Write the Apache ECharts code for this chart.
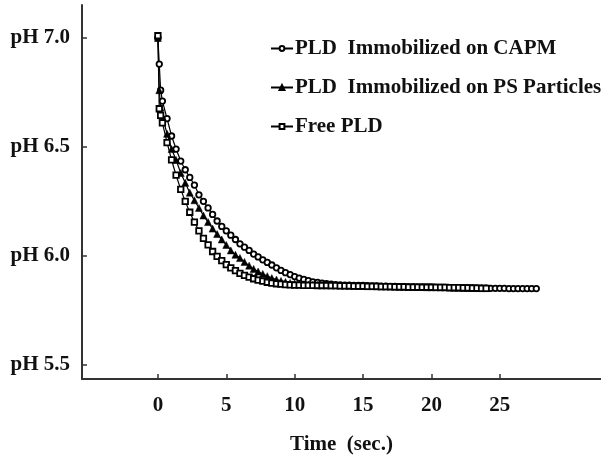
<!DOCTYPE html>
<html>
<head>
<meta charset="utf-8">
<script src="https://cdn.jsdelivr.net/npm/echarts@6/dist/echarts.min.js"></script>
<style>
html,body{margin:0;padding:0;background:#fff;}
#chart{width:601px;height:460px;}
</style>
</head>
<body>
<div id="chart"></div>
<script>
// Time (sec.) of each sample
var time = [0, 0.1, 0.2, 0.33, 0.67, 1, 1.33, 1.67, 2, 2.33, 2.67, 3, 3.33, 3.67, 4, 4.33, 4.67, 5, 5.33, 5.67,
  6, 6.33, 6.67, 7, 7.33, 7.67, 8, 8.33, 8.67, 9, 9.33, 9.67, 10, 10.33, 10.67, 11, 11.33, 11.67, 12, 12.33,
  12.67, 13, 13.33, 13.67, 14, 14.33, 14.67, 15, 15.33, 15.67, 16, 16.33, 16.67, 17, 17.33, 17.67, 18, 18.33,
  18.67, 19, 19.33, 19.67, 20, 20.33, 20.67, 21, 21.33, 21.67, 22, 22.33, 22.67, 23, 23.33, 23.67, 24,
  24.33, 24.67, 25, 25.33, 25.67, 26, 26.33, 26.67, 27, 27.33, 27.67];

// pH values
var capm = [7.0, 6.88, 6.76, 6.71, 6.63, 6.55, 6.49, 6.435, 6.395, 6.36, 6.325, 6.28, 6.25, 6.22, 6.19, 6.16,
  6.135, 6.115, 6.095, 6.075, 6.055, 6.04, 6.025, 6.008, 5.995, 5.982, 5.97, 5.958, 5.945, 5.933, 5.923,
  5.914, 5.905, 5.898, 5.892, 5.886, 5.881, 5.878, 5.875, 5.872, 5.87, 5.868, 5.867, 5.866, 5.866, 5.865,
  5.864, 5.864, 5.863, 5.862, 5.862, 5.861, 5.861, 5.86, 5.86, 5.859, 5.859, 5.858, 5.858, 5.857, 5.857,
  5.856, 5.856, 5.855, 5.855, 5.855, 5.854, 5.854, 5.854, 5.853, 5.853, 5.853, 5.852, 5.852, 5.852, 5.851,
  5.851, 5.851, 5.851, 5.85, 5.85, 5.85, 5.85, 5.85, 5.85, 5.85];

var psParticles = [7.0, 6.76, 6.68, 6.64, 6.56, 6.49, 6.44, 6.38, 6.335, 6.29, 6.255, 6.22, 6.185, 6.155, 6.125,
  6.1, 6.075, 6.05, 6.025, 6.005, 5.99, 5.972, 5.955, 5.94, 5.928, 5.917, 5.907, 5.898, 5.891, 5.885, 5.88,
  5.876, 5.873, 5.871, 5.87, 5.869, 5.868, 5.867, 5.866, 5.866, 5.865, 5.865, 5.864, 5.864, 5.863, 5.863,
  5.862, 5.862, 5.861, 5.861, 5.86, 5.86, 5.86, 5.859, 5.859, 5.858, 5.858, 5.858, 5.857, 5.857, 5.857,
  5.856, 5.856, 5.856, 5.855, 5.855, 5.855, 5.854, 5.854, 5.854, 5.853, 5.853, 5.853, 5.852, 5.852];

var freePld = [7.01, 6.675, 6.645, 6.61, 6.52, 6.44, 6.37, 6.305, 6.25, 6.2, 6.155, 6.115, 6.08, 6.05, 6.02,
  5.998, 5.978, 5.96, 5.945, 5.932, 5.92, 5.91, 5.902, 5.895, 5.889, 5.884, 5.879, 5.875, 5.872, 5.87, 5.868,
  5.867, 5.866, 5.866, 5.865, 5.865, 5.865, 5.864, 5.864, 5.864, 5.863, 5.863, 5.862, 5.862, 5.862, 5.861,
  5.861, 5.861, 5.86, 5.86, 5.86, 5.859, 5.859, 5.859, 5.858, 5.858, 5.858, 5.857, 5.857, 5.857, 5.856,
  5.856, 5.856, 5.855, 5.855, 5.855, 5.854, 5.854, 5.854, 5.853, 5.853, 5.852, 5.852, 5.851, 5.851];

var seriesNames = ['PLD  Immobilized on CAPM', 'PLD  Immobilized on PS Particles', 'Free PLD'];
var xTicks = [0, 5, 10, 15, 20, 25];
var yTicks = [5.5, 6.0, 6.5, 7.0];

function pairs(vals) {
  var out = [];
  for (var i = 0; i < vals.length; i++) out.push([time[i], vals[i]]);
  return out;
}

var FONT = 'Liberation Serif';
var chart = echarts.init(document.getElementById('chart'), null, {renderer: 'canvas'});
var option = {
  backgroundColor: '#ffffff',
  animation: false,
  grid: {left: 82, right: 0, top: 5, bottom: 77, containLabel: false},
  legend: {
    orient: 'vertical',
    left: 265,
    top: 33,
    itemWidth: 22,
    itemHeight: 6,
    itemGap: 18,
    textStyle: {fontFamily: FONT, fontWeight: 'bold', fontSize: 21, color: '#111', padding: [0, 0, 0, -3]},
    data: seriesNames
  },
  xAxis: {
    type: 'value',
    min: -5.55,
    max: 32.4,
    name: 'Time  (sec.)',
    nameLocation: 'middle',
    nameGap: 55,
    nameTextStyle: {fontFamily: FONT, fontWeight: 'bold', fontSize: 21, color: '#111'},
    axisLine: {onZero: false, lineStyle: {color: '#333', width: 2}},
    axisTick: {show: true, inside: true, length: 5, customValues: xTicks, lineStyle: {color: '#333', width: 1.5}},
    axisLabel: {customValues: xTicks, margin: 16, fontFamily: FONT, fontWeight: 'bold', fontSize: 21, color: '#111'},
    splitLine: {show: false}
  },
  yAxis: {
    type: 'value',
    min: 5.435,
    max: 7.151,
    axisLine: {show: true, onZero: false, lineStyle: {color: '#333', width: 2}},
    axisTick: {show: true, inside: true, length: 5, customValues: yTicks, lineStyle: {color: '#333', width: 1.5}},
    axisLabel: {
      customValues: yTicks, margin: 12, fontFamily: FONT, fontWeight: 'bold', fontSize: 21, color: '#111',
      formatter: function (v) { return 'pH ' + v.toFixed(1); }
    },
    splitLine: {show: false}
  },
  series: [
    {
      name: seriesNames[0], type: 'line', data: pairs(capm), symbol: 'circle', symbolSize: 5.5, showAllSymbol: true,
      lineStyle: {color: '#000', width: 1.2},
      itemStyle: {color: '#fff', borderColor: '#000', borderWidth: 1.8}
    },
    {
      name: seriesNames[1], type: 'line', data: pairs(psParticles), symbol: 'triangle', symbolSize: 7, showAllSymbol: true,
      lineStyle: {color: '#000', width: 1.2},
      itemStyle: {color: '#000', borderColor: '#000', borderWidth: 0.5}
    },
    {
      name: seriesNames[2], type: 'line', data: pairs(freePld), symbol: 'rect', symbolSize: 5.5, showAllSymbol: true,
      lineStyle: {color: '#000', width: 1.2},
      itemStyle: {color: '#fff', borderColor: '#000', borderWidth: 1.8}
    }
  ]
};
chart.setOption(option);
</script>
</body>
</html>
